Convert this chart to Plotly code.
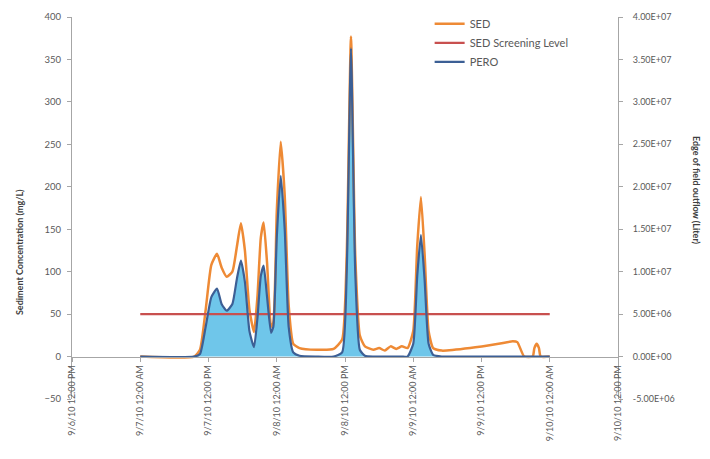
import plotly.graph_objects as go

TIME = [
    "2010-09-07 00:00", "2010-09-07 09:30", "2010-09-07 10:30", "2010-09-07 11:30",
    "2010-09-07 12:30", "2010-09-07 13:30", "2010-09-07 14:18", "2010-09-07 15:12",
    "2010-09-07 16:12", "2010-09-07 17:00", "2010-09-07 17:42", "2010-09-07 18:24",
    "2010-09-07 19:12", "2010-09-07 20:00", "2010-09-07 20:36", "2010-09-07 21:12",
    "2010-09-07 21:42", "2010-09-07 22:18", "2010-09-07 23:00", "2010-09-07 23:24",
    "2010-09-08 00:00", "2010-09-08 00:42", "2010-09-08 01:24", "2010-09-08 02:06",
    "2010-09-08 02:54", "2010-09-08 04:00", "2010-09-08 07:00", "2010-09-08 10:00",
    "2010-09-08 11:30", "2010-09-08 12:18", "2010-09-08 13:03", "2010-09-08 13:48",
    "2010-09-08 14:36", "2010-09-08 15:30", "2010-09-08 17:00", "2010-09-08 18:00",
    "2010-09-08 19:00", "2010-09-08 20:00", "2010-09-08 21:00", "2010-09-08 22:00",
    "2010-09-08 23:00", "2010-09-09 00:00", "2010-09-09 00:42", "2010-09-09 01:21",
    "2010-09-09 02:00", "2010-09-09 02:42", "2010-09-09 03:30", "2010-09-09 05:00",
    "2010-09-09 10:00", "2010-09-09 15:00", "2010-09-09 17:30", "2010-09-09 18:18",
    "2010-09-09 19:30", "2010-09-09 21:00", "2010-09-09 21:18", "2010-09-09 21:42",
    "2010-09-09 22:06", "2010-09-09 22:24", "2010-09-10 00:00",
]

SED = [
    0, 0, 8, 55, 108, 121, 105, 94, 100, 130, 157, 125, 55, 29, 70, 140, 158, 110, 35, 40,
    170, 253, 190, 60, 15, 10, 8, 9, 20, 120, 377, 120, 25, 12, 8, 10, 7, 12, 9, 12,
    10, 30, 130, 188, 120, 30, 10, 7, 10, 15, 18, 17, 0, 0, 10, 15, 10, 0, 0,
]

PERO = [
    0, 0, 0.3e6, 3.5e6, 7.0e6, 8.0e6, 6.2e6, 5.4e6, 6.2e6, 9.2e6, 11.3e6, 8.8e6,
    3.0e6, 1.1e6, 4.5e6, 9.5e6, 10.7e6, 7.0e6, 2.8e6, 3.5e6, 14.0e6, 21.3e6, 15.0e6,
    3.5e6, 0.5e6, 0.1e6, 0, 0, 0.5e6, 10.0e6, 36.3e6, 10.0e6, 0.8e6, 0.1e6, 0, 0,
    0, 0, 0, 0, 0, 1.5e6, 9.5e6, 14.3e6, 9.0e6, 1.5e6, 0.2e6, 0, 0, 0, 0, 0,
    0, 0, 0, 0, 0, 0, 0,
]

SCREEN_TIME = ["2010-09-07 00:00", "2010-09-10 00:00"]
SCREEN_LEVEL = [50, 50]

X_TICKS = [
    "2010-09-06 12:00", "2010-09-07 00:00", "2010-09-07 12:00", "2010-09-08 00:00",
    "2010-09-08 12:00", "2010-09-09 00:00", "2010-09-09 12:00", "2010-09-10 00:00",
    "2010-09-10 12:00",
]
X_LABELS = [
    "9/6/10 12:00 PM", "9/7/10 12:00 AM", "9/7/10 12:00 PM", "9/8/10 12:00 AM",
    "9/8/10 12:00 PM", "9/9/10 12:00 AM", "9/9/10 12:00 PM", "9/10/10 12:00 AM",
    "9/10/10 12:00 PM",
]
Y2_TICKS = [-5e6, 0, 5e6, 1e7, 1.5e7, 2e7, 2.5e7, 3e7, 3.5e7, 4e7]
Y2_LABELS = ["-5.00E+06", "0.00E+00", "5.00E+06", "1.00E+07", "1.50E+07",
             "2.00E+07", "2.50E+07", "3.00E+07", "3.50E+07", "4.00E+07"]

Y_RANGE = [-50, 400]
Y2_RANGE = [-5e6, 4e7]
SCALE = Y2_RANGE[1] / Y_RANGE[1]

FONT = "Lato"
TICKC = "#595959"
AXC = "#A6A6A6"

fig = go.Figure()

# light-blue area under PERO (drawn on the left axis so the other lines sit above it)
fig.add_trace(go.Scatter(
    x=TIME, y=[v / SCALE for v in PERO], mode="lines",
    line=dict(width=0, shape="spline", smoothing=0.5),
    fill="tozeroy", fillcolor="#6FC6EA", showlegend=False, hoverinfo="skip",
))
fig.add_trace(go.Scatter(
    x=TIME, y=SED, name="SED", mode="lines",
    line=dict(color="#EE8A35", width=2.5, shape="spline", smoothing=0.5),
))
fig.add_trace(go.Scatter(
    x=SCREEN_TIME, y=SCREEN_LEVEL, name="SED Screening Level", mode="lines",
    line=dict(color="#C8504F", width=2.2),
))
fig.add_trace(go.Scatter(
    x=TIME, y=PERO, name="PERO", mode="lines", yaxis="y2",
    line=dict(color="#3C5F95", width=2.2, shape="spline", smoothing=0.5),
))

fig.update_layout(
    width=702, height=451,
    margin=dict(l=64, r=92, t=9, b=60, autoexpand=False),
    paper_bgcolor="white", plot_bgcolor="white",
    font=dict(family=FONT, size=9, color=TICKC),
    xaxis=dict(
        type="date", range=[X_TICKS[0], X_TICKS[-1]],
        tickmode="array", tickvals=X_TICKS, ticktext=X_LABELS, tickangle=-90,
        anchor="free", position=(0 - Y_RANGE[0]) / (Y_RANGE[1] - Y_RANGE[0]),
        showline=True, linecolor=AXC, linewidth=1,
        ticks="outside", ticklen=4, tickcolor=AXC,
        showgrid=False, zeroline=False,
        tickfont=dict(family=FONT, size=9, color=TICKC),
    ),
    yaxis=dict(
        range=Y_RANGE, dtick=50, tick0=0,
        showline=True, linecolor=AXC, linewidth=1,
        ticks="outside", ticklen=4, tickcolor=AXC, ticklabelstandoff=4,
        showgrid=False, zeroline=False,
        tickfont=dict(family=FONT, size=9.5, color=TICKC),
    ),
    yaxis2=dict(
        range=Y2_RANGE, overlaying="y", side="right",
        tickmode="array", tickvals=Y2_TICKS, ticktext=Y2_LABELS,
        showline=True, linecolor=AXC, linewidth=1,
        ticks="outside", ticklen=4, tickcolor=AXC, ticklabelstandoff=8,
        showgrid=False, zeroline=False,
        tickfont=dict(family=FONT, size=9, color=TICKC),
    ),
    legend=dict(
        x=0.655, y=1.02, xanchor="left", yanchor="top",
        bgcolor="rgba(0,0,0,0)", font=dict(family=FONT, size=11, color=TICKC),
        tracegroupgap=0,
    ),
    annotations=[
        dict(text="<b>Sediment Concentration (mg/L)</b>", textangle=-90,
             x=-0.095, y=0.385, xref="paper", yref="paper",
             xanchor="center", yanchor="middle",
             showarrow=False, font=dict(family=FONT, size=9, color="#404040")),
        dict(text="<b>Edge of field outflow (Liter)</b>", textangle=90,
             x=1.145, y=0.547, xref="paper", yref="paper",
             xanchor="center", yanchor="middle",
             showarrow=False, font=dict(family=FONT, size=9, color="#404040")),
    ],
)

fig.write_html("out.html")
